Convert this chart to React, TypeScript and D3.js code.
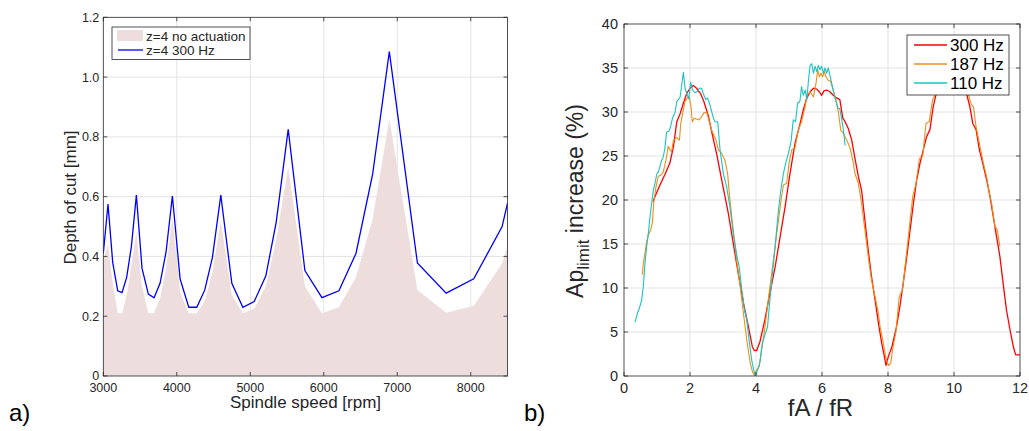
import React from 'react';
import * as d3 from 'd3';

// ---------- Panel a) data ----------
const speedRpm = [3000, 3064, 3128, 3196, 3255, 3318, 3382, 3450, 3527, 3613, 3691, 3772, 3854, 3940, 4045, 4163, 4272, 4381, 4485, 4599, 4749, 4899, 5053, 5212, 5353, 5516, 5743, 5975, 6206, 6438, 6665, 6892, 7274, 7665, 8041, 8427, 8500];
const depthNoActuation = [0.39, 0.44, 0.31, 0.21, 0.21, 0.27, 0.37, 0.48, 0.3, 0.21, 0.21, 0.26, 0.36, 0.53, 0.28, 0.21, 0.21, 0.25, 0.35, 0.52, 0.27, 0.21, 0.225, 0.3, 0.455, 0.7, 0.3, 0.21, 0.23, 0.33, 0.525, 0.86, 0.288, 0.212, 0.235, 0.377, 0.435];
const depth300Hz = [0.41, 0.575, 0.38, 0.285, 0.279, 0.33, 0.433, 0.605, 0.36, 0.274, 0.262, 0.31, 0.415, 0.602, 0.325, 0.23, 0.23, 0.288, 0.397, 0.605, 0.31, 0.23, 0.249, 0.335, 0.515, 0.825, 0.353, 0.262, 0.285, 0.41, 0.675, 1.085, 0.378, 0.277, 0.325, 0.5, 0.578];
const leftXTicks = [3000, 4000, 5000, 6000, 7000, 8000];
const leftYTicks = [0, 0.2, 0.4, 0.6, 0.8, 1.0, 1.2];
const leftYTickLabels = ['0', '0.2', '0.4', '0.6', '0.8', '1.0', '1.2'];
const leftLegend = ['z=4 no actuation', 'z=4 300 Hz'];

// ---------- Panel b) data ----------
const ratio300X = [0.88, 0.94, 1.09, 1.24, 1.39, 1.5, 1.6, 1.7, 1.8, 1.9, 2.0, 2.1, 2.2, 2.32, 2.42, 2.56, 2.69, 2.81, 2.96, 3.16, 3.31, 3.46, 3.62, 3.77, 3.89, 3.95, 4.02, 4.12, 4.27, 4.42, 4.58, 4.73, 4.88, 5.03, 5.18, 5.33, 5.43, 5.54, 5.64, 5.74, 5.84, 5.92, 5.99, 6.06, 6.14, 6.24, 6.34, 6.44, 6.54, 6.63, 6.7, 6.8, 6.9, 7.0, 7.1, 7.2, 7.3, 7.4, 7.5, 7.61, 7.71, 7.81, 7.88, 7.94, 8.01, 8.11, 8.21, 8.26, 8.36, 8.46, 8.57, 8.67, 8.77, 8.87, 8.97, 9.07, 9.17, 9.27, 9.37, 9.45, 9.6, 9.9, 10.2, 10.38, 10.48, 10.57, 10.67, 10.77, 10.87, 10.99, 11.09, 11.19, 11.29, 11.39, 11.49, 11.59, 11.7, 11.8, 11.87, 12.0];
const ratio300Y = [19.8, 20.4, 21.7, 22.9, 24.2, 26.1, 28.9, 29.8, 31.0, 32.1, 32.7, 33.0, 32.7, 32.1, 31.2, 29.5, 27.2, 25.2, 22.3, 18.5, 15.1, 11.7, 8.3, 5.6, 3.3, 2.9, 2.9, 3.9, 6.4, 9.4, 12.4, 15.8, 19.2, 23.0, 26.4, 28.6, 30.2, 31.6, 32.3, 32.7, 32.6, 32.3, 31.9, 32.4, 32.5, 32.3, 31.9, 31.6, 31.4, 29.3, 28.9, 28.1, 26.8, 24.7, 22.7, 21.1, 17.7, 14.3, 11.3, 8.6, 6.0, 3.7, 2.4, 1.2, 2.2, 3.2, 4.8, 5.6, 7.9, 10.5, 13.6, 16.6, 19.6, 22.3, 24.2, 25.7, 27.2, 28.0, 30.6, 31.9, 33.5, 35.0, 34.0, 32.1, 30.6, 28.7, 28.0, 25.7, 24.2, 22.3, 20.4, 18.1, 15.8, 13.6, 10.5, 7.5, 5.2, 3.3, 2.4, 2.4];

const ratio187X = [0.556, 0.586, 0.636, 0.687, 0.737, 0.808, 0.859, 0.909, 0.97, 1.04, 1.11, 1.19, 1.27, 1.34, 1.39, 1.44, 1.5, 1.6, 1.68, 1.72, 1.78, 1.85, 1.92, 1.98, 2.03, 2.07, 2.13, 2.2, 2.27, 2.34, 2.42, 2.5, 2.57, 2.66, 2.73, 2.79, 2.86, 2.96, 3.06, 3.14, 3.21, 3.31, 3.41, 3.52, 3.62, 3.72, 3.82, 3.89, 3.95, 4.02, 4.1, 4.17, 4.25, 4.37, 4.5, 4.63, 4.76, 4.83, 4.93, 5.0, 5.08, 5.18, 5.28, 5.38, 5.49, 5.54, 5.64, 5.74, 5.82, 5.87, 5.92, 5.97, 6.02, 6.07, 6.12, 6.19, 6.26, 6.34, 6.42, 6.5, 6.57, 6.65, 6.75, 6.85, 6.95, 7.0, 7.1, 7.2, 7.3, 7.4, 7.5, 7.61, 7.71, 7.76, 7.86, 7.94, 8.01, 8.08, 8.14, 8.24, 8.34, 8.44, 8.54, 8.65, 8.75, 8.85, 8.95, 9.05, 9.15, 9.25, 9.35, 9.42, 9.6, 9.9, 10.2, 10.46, 10.53, 10.59, 10.67, 10.77, 10.89, 10.99, 11.07, 11.14, 11.24, 11.31, 11.39];
const ratio187Y = [11.5, 12.8, 14.0, 15.3, 16.0, 16.6, 17.4, 20.0, 21.5, 22.7, 22.8, 23.2, 24.5, 26.1, 25.7, 25.5, 26.8, 27.1, 26.8, 28.7, 29.9, 31.2, 31.6, 31.7, 30.6, 28.9, 29.3, 29.2, 29.1, 29.4, 29.9, 30.0, 29.1, 27.9, 27.3, 26.8, 25.7, 25.3, 24.5, 23.0, 20.0, 16.6, 13.2, 10.2, 7.1, 4.1, 1.6, 0.5, 0.1, 0.7, 1.1, 3.0, 4.9, 8.6, 12.4, 16.2, 20.0, 21.7, 21.9, 24.2, 25.7, 25.9, 27.9, 28.9, 30.6, 31.9, 32.3, 31.7, 33.3, 34.8, 34.0, 34.4, 34.0, 34.6, 34.0, 33.6, 33.5, 32.5, 31.4, 29.9, 27.9, 27.6, 26.8, 25.9, 24.2, 23.0, 21.9, 19.6, 16.6, 13.6, 10.9, 9.0, 7.1, 5.6, 3.7, 2.0, 1.2, 1.4, 3.0, 5.0, 9.0, 9.8, 13.2, 17.0, 20.4, 21.9, 24.7, 24.9, 28.7, 28.9, 31.4, 31.9, 33.8, 35.0, 34.0, 31.7, 30.8, 30.6, 28.3, 26.4, 24.2, 22.6, 20.8, 19.6, 17.0, 16.6, 14.7];

const ratio110X = [0.333, 0.404, 0.465, 0.535, 0.586, 0.636, 0.687, 0.737, 0.788, 0.838, 0.889, 0.939, 0.99, 1.04, 1.09, 1.14, 1.19, 1.24, 1.29, 1.36, 1.41, 1.47, 1.55, 1.6, 1.65, 1.7, 1.75, 1.8, 1.85, 1.9, 1.96, 2.02, 2.08, 2.15, 2.22, 2.28, 2.35, 2.4, 2.48, 2.53, 2.59, 2.66, 2.71, 2.76, 2.84, 2.91, 3.01, 3.11, 3.21, 3.31, 3.41, 3.49, 3.57, 3.65, 3.72, 3.79, 3.87, 3.93, 3.98, 4.05, 4.12, 4.19, 4.27, 4.35, 4.42, 4.5, 4.58, 4.66, 4.74, 4.83, 4.9, 4.98, 5.06, 5.13, 5.2, 5.26, 5.33, 5.38, 5.43, 5.49, 5.54, 5.59, 5.64, 5.69, 5.74, 5.79, 5.84, 5.89, 5.94, 5.99, 6.04, 6.09, 6.14, 6.19, 6.24, 6.29, 6.34, 6.39, 6.44, 6.49, 6.54, 6.6, 6.65, 6.7];
const ratio110Y = [6.1, 7.1, 7.7, 8.6, 10.2, 12.8, 14.7, 16.2, 18.1, 19.6, 21.1, 21.9, 22.9, 23.2, 23.8, 24.5, 24.9, 25.9, 27.7, 27.8, 28.3, 29.3, 30.0, 31.2, 31.4, 31.7, 33.1, 34.5, 32.7, 32.1, 31.5, 33.4, 32.5, 32.2, 32.3, 32.7, 32.7, 32.1, 31.4, 31.6, 31.0, 30.0, 29.3, 28.9, 28.9, 25.7, 23.0, 21.5, 19.2, 16.2, 13.9, 12.4, 9.8, 7.5, 6.4, 4.1, 1.8, 0.7, 0.0, 0.7, 1.6, 3.7, 4.7, 5.6, 8.6, 11.7, 14.7, 18.1, 20.8, 23.0, 24.2, 25.3, 26.6, 29.1, 28.9, 31.0, 31.2, 32.9, 31.9, 32.5, 31.4, 33.6, 35.3, 35.5, 34.4, 35.2, 34.6, 35.3, 34.8, 35.2, 34.4, 35.0, 34.4, 35.0, 34.2, 33.3, 32.5, 31.6, 31.0, 30.4, 30.4, 29.1, 27.9, 26.2];

const rightXTicks = [0, 2, 4, 6, 8, 10, 12];
const rightYTicks = [0, 5, 10, 15, 20, 25, 30, 35, 40];
const rightLegend = ['300 Hz', '187 Hz', '110 Hz'];
const rightColors = ['#ff0000', '#e8901e', '#1fc2c2'];

const FONT = '"Liberation Sans", Arial, Helvetica, sans-serif';
const AX = '#262626';
const GRID = '#e3e3e3';

export default function App() {
  // Panel a
  const a = { left: 103.3, right: 507.5, top: 17.3, bottom: 376 };
  const xA = d3.scaleLinear().domain([3000, 8500]).range([a.left, a.right]);
  const yA = d3.scaleLinear().domain([0, 1.2]).range([a.bottom, a.top]);
  const areaA = d3.area<number>()
    .x((_, i) => xA(speedRpm[i]))
    .y0(yA(0))
    .y1((d) => yA(d));
  const lineA = d3.line<number>()
    .x((_, i) => xA(speedRpm[i]))
    .y((d) => yA(d));

  // Panel b
  const b = { left: 624, right: 1020, top: 24, bottom: 376 };
  const xB = d3.scaleLinear().domain([0, 12]).range([b.left, b.right]);
  const yB = d3.scaleLinear().domain([0, 40]).range([b.bottom, b.top]);
  const mkLine = (xs: number[], ys: number[]) =>
    d3.line<number>().x((_, i) => xB(xs[i])).y((d) => yB(d))(ys) || '';
  const seriesB = [
    { xs: ratio300X, ys: ratio300Y, w: 1.3 },
    { xs: ratio187X, ys: ratio187Y, w: 1.1 },
    { xs: ratio110X, ys: ratio110Y, w: 1.1 },
  ];

  const tick = 4;

  return (
    <svg width={1029} height={431} style={{ position: 'absolute', left: 0, top: 0, background: '#fff' }} fontFamily={FONT}>
      <defs>
        <clipPath id="clipA"><rect x={a.left} y={a.top} width={a.right - a.left} height={a.bottom - a.top} /></clipPath>
        <clipPath id="clipB"><rect x={b.left} y={b.top - 1} width={b.right - b.left} height={b.bottom - b.top + 1} /></clipPath>
      </defs>
      <rect x={0} y={0} width={1029} height={431} fill="#fff" />

      {/* ===== Panel a ===== */}
      <g>
        {leftXTicks.slice(1).map((t) => (
          <line key={'gx' + t} x1={xA(t)} x2={xA(t)} y1={a.top} y2={a.bottom} stroke={GRID} strokeWidth={1} />
        ))}
        {leftYTicks.slice(1, -1).map((t) => (
          <line key={'gy' + t} x1={a.left} x2={a.right} y1={yA(t)} y2={yA(t)} stroke={GRID} strokeWidth={1} />
        ))}
        <g clipPath="url(#clipA)">
          <path d={areaA(depthNoActuation) || ''} fill="#eedddd" stroke="none" />
          <path d={lineA(depth300Hz) || ''} fill="none" stroke="#0000ff" strokeWidth={1.3} />
        </g>
        <rect x={a.left} y={a.top} width={a.right - a.left} height={a.bottom - a.top} fill="none" stroke={AX} strokeWidth={0.8} />
        {leftXTicks.map((t) => (
          <g key={'tx' + t}>
            <line x1={xA(t)} x2={xA(t)} y1={a.bottom} y2={a.bottom - tick} stroke={AX} strokeWidth={0.8} />
            <line x1={xA(t)} x2={xA(t)} y1={a.top} y2={a.top + tick} stroke={AX} strokeWidth={0.8} />
            <text x={xA(t)} y={a.bottom + 15.5} textAnchor="middle" fontSize={12.5} fill={AX}>{t}</text>
          </g>
        ))}
        {leftYTicks.map((t, i) => (
          <g key={'ty' + t}>
            <line x1={a.left} x2={a.left + tick} y1={yA(t)} y2={yA(t)} stroke={AX} strokeWidth={0.8} />
            <line x1={a.right} x2={a.right - tick} y1={yA(t)} y2={yA(t)} stroke={AX} strokeWidth={0.8} />
            <text x={a.left - 4} y={yA(t) + (i === 0 ? 3.5 : 4.5)} textAnchor="end" fontSize={12.5} fill={AX}>{leftYTickLabels[i]}</text>
          </g>
        ))}
        <text x={305.5} y={408} textAnchor="middle" fontSize={17} fill={AX}>Spindle speed [rpm]</text>
        <text transform="translate(76,197.5) rotate(-90)" textAnchor="middle" fontSize={17} fill={AX}>Depth of cut [mm]</text>
        {/* legend */}
        <rect x={112} y={27} width={138} height={32.5} fill="#fff" stroke={AX} strokeWidth={0.8} />
        <rect x={117} y={30} width={26} height={11} fill="#eedddd" />
        <text x={146} y={40.5} fontSize={13.5} fill={AX}>{leftLegend[0]}</text>
        <line x1={118} x2={143} y1={50} y2={50} stroke="#0000ff" strokeWidth={1.3} />
        <text x={146} y={54.5} fontSize={13.5} fill={AX}>{leftLegend[1]}</text>
        <text x={9} y={421} fontSize={24} fill="#000">a)</text>
      </g>

      {/* ===== Panel b ===== */}
      <g>
        {rightXTicks.slice(1, -1).map((t) => (
          <line key={'bgx' + t} x1={xB(t)} x2={xB(t)} y1={b.top} y2={b.bottom} stroke={GRID} strokeWidth={1} />
        ))}
        {rightYTicks.slice(1, -1).map((t) => (
          <line key={'bgy' + t} x1={b.left} x2={b.right} y1={yB(t)} y2={yB(t)} stroke={GRID} strokeWidth={1} />
        ))}
        <g clipPath="url(#clipB)">
          {seriesB.map((s, i) => (
            <path key={'s' + i} d={mkLine(s.xs, s.ys)} fill="none" stroke={rightColors[i]} strokeWidth={s.w} strokeLinejoin="round" />
          ))}
        </g>
        <rect x={b.left} y={b.top} width={b.right - b.left} height={b.bottom - b.top} fill="none" stroke={AX} strokeWidth={0.8} />
        {rightXTicks.map((t) => (
          <g key={'btx' + t}>
            <line x1={xB(t)} x2={xB(t)} y1={b.bottom} y2={b.bottom - tick} stroke={AX} strokeWidth={0.8} />
            <line x1={xB(t)} x2={xB(t)} y1={b.top} y2={b.top + tick} stroke={AX} strokeWidth={0.8} />
            <text x={xB(t)} y={b.bottom + 17} textAnchor="middle" fontSize={14.5} fill={AX}>{t}</text>
          </g>
        ))}
        {rightYTicks.map((t) => (
          <g key={'bty' + t}>
            <line x1={b.left} x2={b.left + tick} y1={yB(t)} y2={yB(t)} stroke={AX} strokeWidth={0.8} />
            <line x1={b.right} x2={b.right - tick} y1={yB(t)} y2={yB(t)} stroke={AX} strokeWidth={0.8} />
            <text x={b.left - 6} y={yB(t) + 5} textAnchor="end" fontSize={14.5} fill={AX}>{t}</text>
          </g>
        ))}
        <text x={820.5} y={416} textAnchor="middle" fontSize={24} fill={AX}>fA / fR</text>
        <text transform="translate(583,201) rotate(-90)" textAnchor="middle" fontSize={23} fill={AX}>
          Ap<tspan fontSize={17} dy={6}>limit</tspan><tspan dy={-6}> increase (%)</tspan>
        </text>
        {/* legend */}
        <rect x={907} y={35} width={102} height={60} fill="#fff" stroke={AX} strokeWidth={0.8} />
        {rightLegend.map((lab, i) => (
          <g key={'lg' + i}>
            <line x1={914} x2={947} y1={45 + i * 19} y2={45 + i * 19} stroke={rightColors[i]} strokeWidth={i === 1 ? 1.6 : 1.3} />
            <text x={950} y={45 + i * 19 + 6} fontSize={17} fill="#000">{lab}</text>
          </g>
        ))}
        <text x={524} y={421} fontSize={24} fill="#000">b)</text>
      </g>
    </svg>
  );
}
